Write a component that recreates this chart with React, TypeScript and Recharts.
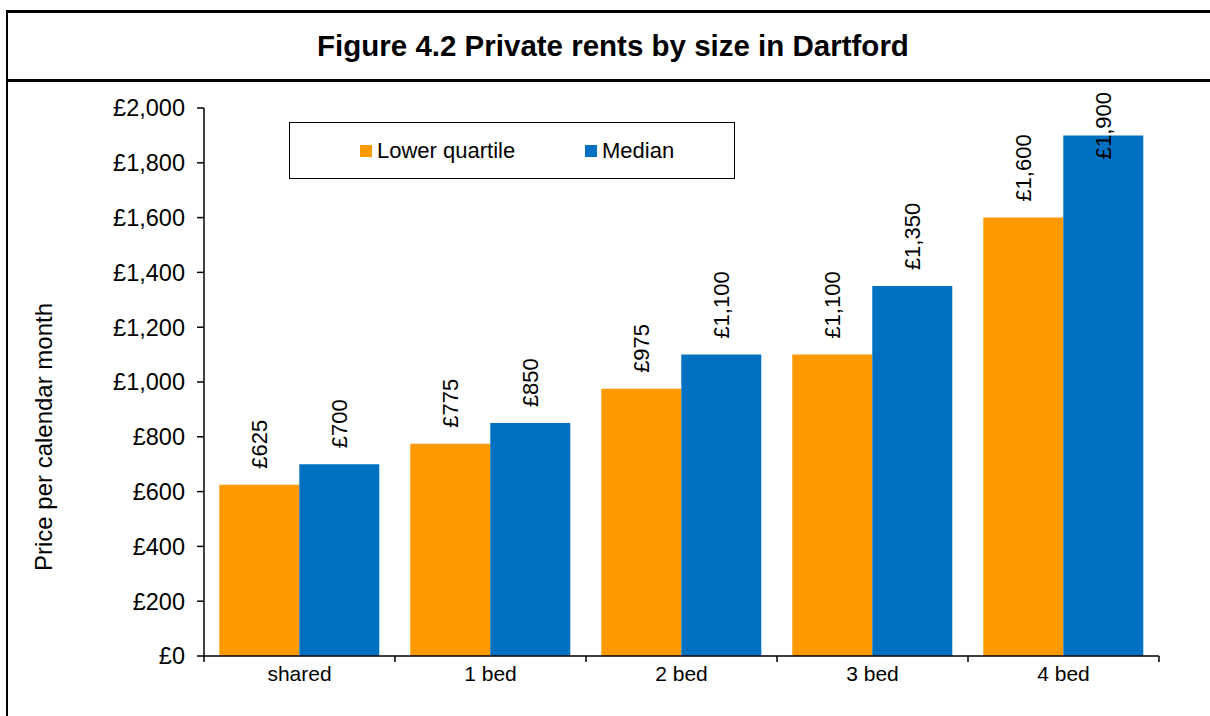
import React from 'react';
import { BarChart, Bar, XAxis, YAxis, LabelList, Label } from 'recharts';

const categories = ['shared', '1 bed', '2 bed', '3 bed', '4 bed'];
const lowerQuartile = [625, 775, 975, 1100, 1600];
const median = [700, 850, 1100, 1350, 1900];
const yTicks = [0, 200, 400, 600, 800, 1000, 1200, 1400, 1600, 1800, 2000];

const data = categories.map((category, i) => ({
  category,
  lower: lowerQuartile[i],
  median: median[i],
}));

const FONT = '"Liberation Sans", Arial, sans-serif';
const W = 1210;
const H = 716;
const X_AXIS_H = 30;
const MARGIN = { top: 108, right: 51, bottom: 30, left: 0 };
const Y_AXIS_W = 204;
const BAND = (W - MARGIN.left - MARGIN.right - Y_AXIS_W) / categories.length;
const LABEL_SIZE = 22;
const CAT_SIZE = 21;
const ORANGE = '#FF9900';
const BLUE = '#0070C0';

const money = (v: number) => '£' + v.toLocaleString('en-GB');

// rough Arial text width, used to keep the tallest label inside the frame
const textWidth = (s: string, size: number) =>
  s.split('').reduce((w, c) => w + (c === ',' ? 0.278 : 0.556), 0) * size;

function BarValue(props: any) {
  const { x, y, width, value } = props;
  const text = money(value);
  const cx = x + width / 2;
  const len = textWidth(text, LABEL_SIZE);
  const start = Math.max(y - 16, MARGIN.top - 16 + len);
  return (
    <text
      x={cx}
      y={start}
      transform={`rotate(-90 ${cx} ${start})`}
      textAnchor="start"
      dy="0.36em"
      fontSize={LABEL_SIZE}
      fontFamily={FONT}
      fill="#000"
    >
      {text}
    </text>
  );
}

function CategoryTick(props: any) {
  const { x, y, payload, index } = props;
  const left = x - BAND / 2;
  const right = x + BAND / 2;
  return (
    <g>
      <line x1={left} y1={y} x2={left} y2={y + 6} stroke="#000" strokeWidth={1.5} />
      {index === categories.length - 1 && (
        <line x1={right} y1={y} x2={right} y2={y + 6} stroke="#000" strokeWidth={1.5} />
      )}
      <text x={x} y={y + 25} textAnchor="middle" fontSize={CAT_SIZE} fontFamily={FONT} fill="#000">
        {payload.value}
      </text>
    </g>
  );
}

function YTitle(props: any) {
  const vb = props.viewBox || { x: 0, y: 0, width: 0, height: 0 };
  const cx = vb.x + 44;
  const cy = vb.y + vb.height / 2 + 55;
  return (
    <text
      x={cx}
      y={cy}
      transform={`rotate(-90 ${cx} ${cy})`}
      textAnchor="middle"
      dy="0.35em"
      fontSize={24}
      fontFamily={FONT}
      fill="#000"
    >
      Price per calendar month
    </text>
  );
}

function LegendBox() {
  const item = (color: string, label: string, left: number) => (
    <div style={{ position: 'absolute', left, top: 0, height: '100%', display: 'flex', alignItems: 'center' }}>
      <span style={{ width: 12, height: 12, background: color, display: 'inline-block', marginRight: 5 }} />
      <span style={{ fontSize: 22, fontFamily: FONT, color: '#000' }}>{label}</span>
    </div>
  );
  return (
    <div
      style={{
        position: 'absolute',
        left: 289,
        top: 122,
        width: 444,
        height: 55,
        border: '1.5px solid #000',
        background: '#fff',
      }}
    >
      {item(ORANGE, 'Lower quartile', 70)}
      {item(BLUE, 'Median', 295)}
    </div>
  );
}

export default function App() {
  return (
    <div style={{ position: 'absolute', left: 0, top: 0, width: W, height: H, overflow: 'hidden', background: '#fff' }}>
      {/* frame */}
      <div style={{ position: 'absolute', left: 6, top: 10, width: W, height: H, borderLeft: '2px solid #000', borderTop: '3px solid #000' }} />
      <div style={{ position: 'absolute', left: 7, top: 79, width: W, height: 3, background: '#000' }} />
      <div
        style={{
          position: 'absolute',
          left: 7,
          top: 13,
          width: 1212,
          height: 66,
          display: 'flex',
          alignItems: 'center',
          justifyContent: 'center',
          fontFamily: FONT,
          fontWeight: 'bold',
          fontSize: 29.5,
          color: '#000',
        }}
      >
        Figure 4.2 Private rents by size in Dartford
      </div>

      <div style={{ position: 'absolute', left: 0, top: 0 }}>
        <BarChart width={W} height={H} data={data} margin={MARGIN} barCategoryGap="8%" barGap={0}>
          <XAxis
            dataKey="category"
            height={X_AXIS_H}
            interval={0}
            tickLine={false}
            tickSize={0}
            tickMargin={0}
            axisLine={{ stroke: '#000', strokeWidth: 1.5 }}
            tick={<CategoryTick />}
          />
          <YAxis
            width={Y_AXIS_W}
            domain={[0, 2000]}
            ticks={yTicks}
            interval={0}
            tickFormatter={money}
            axisLine={{ stroke: '#000', strokeWidth: 1.5 }}
            tickLine={{ stroke: '#000', strokeWidth: 1.5 }}
            tickSize={7}
            tickMargin={12}
            tick={{ fill: '#000', fontSize: 23.5, fontFamily: FONT }}
          >
            <Label content={<YTitle />} />
          </YAxis>
          <Bar dataKey="lower" name="Lower quartile" fill={ORANGE} isAnimationActive={false}>
            <LabelList dataKey="lower" content={<BarValue />} />
          </Bar>
          <Bar dataKey="median" name="Median" fill={BLUE} isAnimationActive={false}>
            <LabelList dataKey="median" content={<BarValue />} />
          </Bar>
        </BarChart>
      </div>

      <LegendBox />
    </div>
  );
}
